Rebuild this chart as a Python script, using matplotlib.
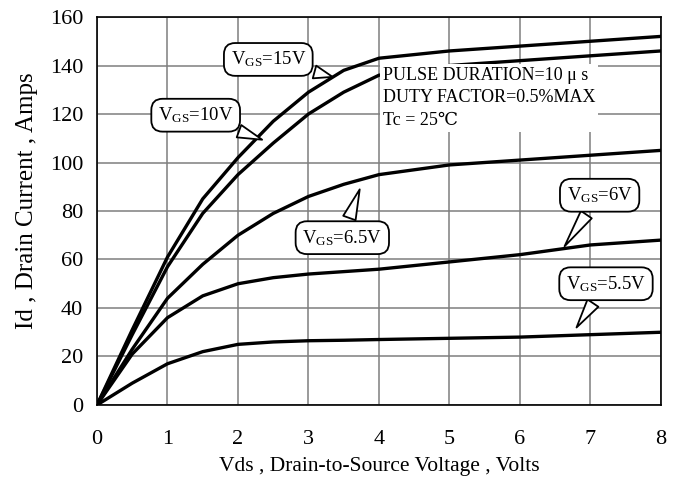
import numpy as np
import matplotlib
matplotlib.use("Agg")
import matplotlib.pyplot as plt

plt.rcParams['font.family'] = ['Liberation Serif', 'DejaVu Serif']
plt.rcParams['mathtext.fontset'] = 'custom'
plt.rcParams['mathtext.rm'] = 'Liberation Serif'
plt.rcParams['mathtext.it'] = 'Liberation Serif:italic'

vds = [0, 0.5, 1, 1.5, 2, 2.5, 3, 3.5, 4, 5, 6, 7, 8]
id_15v = [0, 31, 61, 85, 102, 117, 129, 138, 143, 146, 148, 150, 152]
id_10v = [0, 29, 57, 79, 95, 108, 120, 129, 136, 140, 142, 144, 146]
id_6p5v = [0, 23, 44, 58, 70, 79, 86, 91, 95, 99, 101, 103, 105]
id_6v = [0, 21, 36, 45, 50, 52.5, 54, 55, 56, 59, 62, 66, 68]
id_5p5v = [0, 9, 17, 22, 25, 26, 26.5, 26.7, 27, 27.5, 28, 29, 30]

xticks = [0, 1, 2, 3, 4, 5, 6, 7, 8]
yticks = [0, 20, 40, 60, 80, 100, 120, 140, 160]

fig = plt.figure(figsize=(6.81, 4.79), dpi=100)
ax = fig.add_axes([0.1424, 0.1545, 0.8282, 0.81])

for y in (id_15v, id_10v, id_6p5v, id_6v, id_5p5v):
    ax.plot(vds, y, color='black', lw=2.4, solid_capstyle='round', zorder=3)

ax.set_xlim(0, 8)
ax.set_ylim(0, 160)
ax.set_xticks(xticks)
ax.set_yticks(yticks)
ax.grid(True, color='#7f7f7f', lw=1.1)
ax.set_axisbelow(True)
ax.tick_params(length=0, labelsize=16)
ax.tick_params(axis='x', pad=18)
ax.tick_params(axis='y', pad=10)
for s in ax.spines.values():
    s.set_linewidth(1.2)
    s.set_color('black')

ax.set_xlabel('Vds , Drain-to-Source Voltage , Volts', fontsize=15.5, labelpad=6)
ax.set_ylabel('Id , Drain Current , Amps', fontsize=18)
ax.yaxis.set_label_coords(-0.104, 0.526)

box = dict(boxstyle='round,pad=0.35,rounding_size=0.6', fc='white', ec='black', lw=1.3)
arrow = dict(arrowstyle='wedge,tail_width=0.7,shrink_factor=0.5', fc='white', ec='black', lw=1.3)

labels = [
    (r'V$_{\mathrm{GS}}$=15V', (3.38, 135), (2.43, 142.5)),
    (r'V$_{\mathrm{GS}}$=10V', (2.38, 109), (1.40, 119.5)),
    (r'V$_{\mathrm{GS}}$=6.5V', (3.74, 90), (3.48, 69)),
    (r'V$_{\mathrm{GS}}$=6V', (6.61, 64.5), (7.13, 86.5)),
    (r'V$_{\mathrm{GS}}$=5.5V', (6.78, 31), (7.22, 50)),
]
for txt, xy, xytext in labels:
    ax.annotate(txt, xy=xy, xytext=xytext, fontsize=13.5, ha='center', va='center',
                bbox=box, arrowprops=arrow, zorder=5)

ax.text(4.06, 126.6, 'PULSE DURATION=10 \u03bc s\nDUTY FACTOR=0.5%MAX\nTc = 25\u2103',
        fontsize=13, ha='left', va='center', linespacing=1.45,
        bbox=dict(boxstyle='square,pad=0.15', fc='white', ec='none'), zorder=4)

fig.savefig('out.png', dpi=100)
